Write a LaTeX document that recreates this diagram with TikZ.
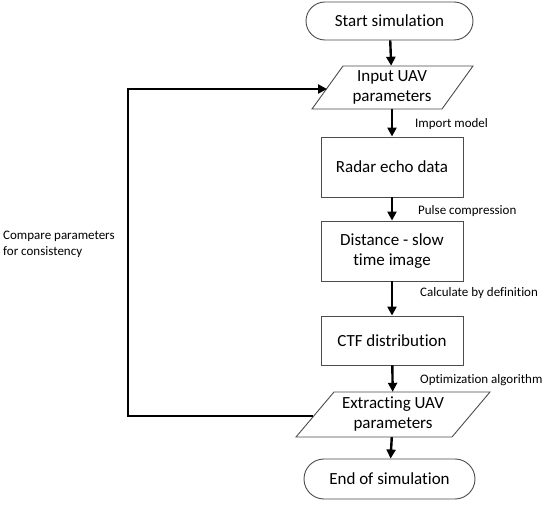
\documentclass[tikz,border=0pt]{standalone}
\usepackage{fontspec}
\setmainfont{Carlito}[Ligatures={NoCommon,NoContextual}]
\usetikzlibrary{arrows.meta}
\begin{document}
\begin{tikzpicture}[x=1pt,y=-1pt,
  shapeline/.style={draw=black!70,line width=0.9pt},
  terminal/.style={shapeline,rectangle,rounded corners=19pt,minimum height=38pt,font=\fontsize{17}{20}\selectfont},
  procbox/.style={shapeline,rectangle,minimum width=142pt,minimum height=60pt,align=center,font=\fontsize{17}{20}\selectfont},
  iotext/.style={rectangle,inner sep=0pt,align=center,font=\fontsize{17}{20}\selectfont},
  lbl/.style={anchor=west,inner sep=0pt,font=\fontsize{13}{16}\selectfont},
  arr/.style={line width=2.4pt,-{Triangle[length=9pt,width=9pt]}}]
\path[use as bounding box,fill=white] (0,0) rectangle (550,505);

% terminals
\node[terminal,minimum width=167pt] (start) at (389.5,21) {Start simulation};
\node[terminal,minimum width=171pt,minimum height=40pt,rounded corners=20pt] (stop) at (389.5,479) {End of simulation};

% input parallelogram
\draw[shapeline] (343,66) -- (473,66) -- (442,109) -- (312,109) -- cycle;
\node[iotext,minimum height=43pt,minimum width=100pt] (in) at (392,87.5) {Input UAV\\parameters};

% process boxes
\node[procbox] (radar) at (392,167) {Radar echo data};
\node[procbox] (dist) at (392,251) {Distance - slow\\time image};
\node[procbox,minimum height=49pt] (ctf) at (392,340.5) {CTF distribution};

% extracting parallelogram
\draw[shapeline] (334,392) -- (490,392) -- (452,437) -- (296,437) -- cycle;
\node[iotext,minimum height=45pt,minimum width=120pt] (ext) at (393,414.5) {Extracting UAV\\parameters};

% main flow
\draw[arr] (start) -- (in);
\draw[arr] (in) -- (radar);
\draw[arr] (radar) -- (dist);
\draw[arr] (dist) -- (ctf);
\draw[arr] (ctf) -- (ext);
\draw[arr] (ext) -- (stop);

% labels
\node[lbl] (l1) at (415,124) {Import model};
\node[lbl] (l2) at (418,211) {Pulse compression};
\node[lbl] (l3) at (420,293) {Calculate by definition};
\node[lbl] (l4) at (420,380) {Optimization algorithm};

% feedback loop
\coordinate (exL) at (313,416);
\coordinate (fbB) at (128,416);
\coordinate (fbT) at (128,89);
\coordinate (inL) at (327,89);
\draw[arr,line join=miter] (exL) -- (fbB) -- (fbT) -- (inL);
\node[anchor=west,align=left,inner sep=0pt,font=\fontsize{13}{16}\selectfont] (cmp) at (3,244) {Compare parameters\\for consistency};
\end{tikzpicture}
\end{document}
